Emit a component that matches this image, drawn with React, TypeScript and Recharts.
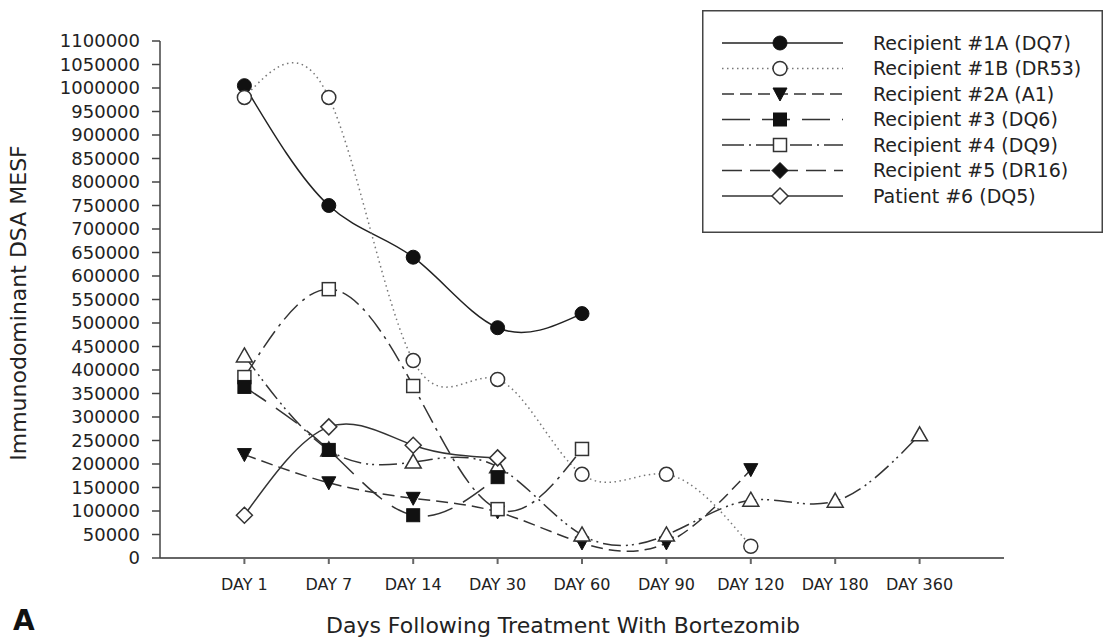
import React from 'react';
import { Legend, Line, LineChart, XAxis, YAxis } from 'recharts';

// x categories and y ticks
const dayLabels = ['DAY 1', 'DAY 7', 'DAY 14', 'DAY 30', 'DAY 60', 'DAY 90', 'DAY 120', 'DAY 180', 'DAY 360'];
const dayTicks = [1, 2, 3, 4, 5, 6, 7, 8, 9];
const yTicks = [
	0, 50000, 100000, 150000, 200000, 250000, 300000, 350000, 400000, 450000, 500000, 550000,
	600000, 650000, 700000, 750000, 800000, 850000, 900000, 950000, 1000000, 1050000, 1100000,
];

// MESF values per recipient, one entry per day starting at DAY 1
const recipient1A = [1005000, 750000, 640000, 490000, 520000];
const recipient1B = [980000, 980000, 420000, 380000, 178000, 178000, 25000];
const recipient2A = [220000, 160000, 127000, 98000, 32000, 32000, 188000];
const recipient3 = [364000, 230000, 91000, 172000];
const recipient4 = [385000, 572000, 366000, 104000, 232000];
const recipient5 = [430000, 230000, 204000, 194000, 49000, 49000, 123000, 121000, 262000];
const patient6 = [91000, 279000, 240000, 213000];

const FONT = '"DejaVu Sans", Arial, sans-serif';
const INK = '#222';

type Marker = 'filledCircle' | 'openCircle' | 'filledTriDown' | 'filledSquare' | 'openSquare' | 'openTriangle' | 'filledDiamond' | 'openDiamond';

interface Series {
	name: string;
	values: number[];
	marker: Marker;
	legendMarker: Marker;
	dash?: string;
	legendDash?: string;
	color: string;
}

const drawMarker = (kind: Marker, cx: number, cy: number, key?: string | number) => {
	const sw = 1.5;
	switch (kind) {
		case 'filledCircle':
			return <circle key={key} cx={cx} cy={cy} r={7} fill="#111" stroke="#111" />;
		case 'openCircle':
			return <circle key={key} cx={cx} cy={cy} r={7} fill="#fff" stroke="#333" strokeWidth={sw} />;
		case 'filledTriDown':
			return <polygon key={key} points={`${cx - 7},${cy - 6} ${cx + 7},${cy - 6} ${cx},${cy + 7}`} fill="#111" stroke="#111" />;
		case 'filledSquare':
			return <rect key={key} x={cx - 6.5} y={cy - 6.5} width={13} height={13} fill="#111" stroke="#111" />;
		case 'openSquare':
			return <rect key={key} x={cx - 6.5} y={cy - 6.5} width={13} height={13} fill="#fff" stroke="#333" strokeWidth={sw} />;
		case 'openTriangle':
			return <polygon key={key} points={`${cx},${cy - 8} ${cx + 8},${cy + 6} ${cx - 8},${cy + 6}`} fill="#fff" stroke="#333" strokeWidth={sw} />;
		case 'filledDiamond':
			return <polygon key={key} points={`${cx},${cy - 8} ${cx + 8},${cy} ${cx},${cy + 8} ${cx - 8},${cy}`} fill="#111" stroke="#111" />;
		case 'openDiamond':
		default:
			return <polygon key={key} points={`${cx},${cy - 8} ${cx + 8},${cy} ${cx},${cy + 8} ${cx - 8},${cy}`} fill="#fff" stroke="#333" strokeWidth={sw} />;
	}
};

const series: Series[] = [
	{ name: 'Recipient #1A (DQ7)', values: recipient1A, marker: 'filledCircle', legendMarker: 'filledCircle', color: '#222' },
	{ name: 'Recipient #1B (DR53)', values: recipient1B, marker: 'openCircle', legendMarker: 'openCircle', dash: '1.5 3.5', legendDash: '1.5 3.5', color: '#777' },
	{ name: 'Recipient #2A (A1)', values: recipient2A, marker: 'filledTriDown', legendMarker: 'filledTriDown', dash: '12 6', legendDash: '12 6', color: '#333' },
	{ name: 'Recipient #3 (DQ6)', values: recipient3, marker: 'filledSquare', legendMarker: 'filledSquare', dash: '26 12', legendDash: '28 12', color: '#333' },
	{ name: 'Recipient #4 (DQ9)', values: recipient4, marker: 'openSquare', legendMarker: 'openSquare', dash: '20 6 3 6', legendDash: '22 5 2 5', color: '#333' },
	{ name: 'Recipient #5 (DR16)', values: recipient5, marker: 'openTriangle', legendMarker: 'filledDiamond', dash: '18 5 2 4 2 5', legendDash: '20 8', color: '#333' },
	{ name: 'Patient #6 (DQ5)', values: patient6, marker: 'openDiamond', legendMarker: 'openDiamond', color: '#333' },
];

// draw order so overlapping markers stack like the original
const drawOrder = [0, 1, 2, 4, 5, 3, 6];

const toPoints = (values: number[]) => values.map((v, i) => ({ pos: dayTicks[i], value: v }));

const LegendBox = () => (
	<svg width={401} height={223} style={{ display: 'block' }}>
		<rect x={0.75} y={0.75} width={399.5} height={221.5} fill="#fff" stroke="#444" strokeWidth={1.5} />
		{series.map((s, i) => {
			const y = 33 + i * 25.5;
			return (
				<g key={s.name}>
					<line x1={20} x2={141} y1={y} y2={y} stroke={s.color} strokeWidth={1.5} strokeDasharray={s.legendDash} />
					{drawMarker(s.legendMarker, 78, y)}
					<text x={171} y={y} dy="0.36em" fontSize={19} fontFamily={FONT} fill={INK}>
						{s.name}
					</text>
				</g>
			);
		})}
	</svg>
);

export default function App() {
	return (
		<div style={{ position: 'absolute', left: 0, top: 0, width: 1103, height: 639, overflow: 'hidden', background: '#fff' }}>
			<LineChart width={1103} height={639} margin={{ top: 41, right: 99, bottom: 21, left: 0 }}>
				<XAxis
					type="number"
					dataKey="pos"
					domain={[0, 10]}
					ticks={dayTicks}
					tickFormatter={(v: number) => dayLabels[v - 1]}
					height={60}
					tickSize={6}
					tickMargin={15}
					stroke="#666"
					strokeWidth={2}
					tick={{ fontSize: 16, fill: INK, fontFamily: FONT }}
					label={{
						content: () => (
							<text x={563} y={633} textAnchor="middle" fontSize={22} fontFamily={FONT} fill={INK}>
								Days Following Treatment With Bortezomib
							</text>
						),
					}}
				/>
				<YAxis
					type="number"
					domain={[0, 1100000]}
					ticks={yTicks}
					interval={0}
					width={160}
					tickSize={8}
					tickMargin={12}
					stroke="#444"
					strokeWidth={1.5}
					tick={{ fontSize: 18, fill: INK, fontFamily: FONT }}
					label={{
						content: () => (
							<text x={26} y={303} transform="rotate(-90, 26, 303)" textAnchor="middle" fontSize={22} fontFamily={FONT} fill={INK}>
								Immunodominant DSA MESF
							</text>
						),
					}}
				/>
				<Legend
					layout="horizontal"
					align="center"
					verticalAlign="middle"
					wrapperStyle={{ position: 'absolute', left: 702, top: 10, width: 401, height: 223 }}
					content={() => <LegendBox />}
				/>
				{drawOrder.map((idx) => {
					const s = series[idx];
					return (
						<Line
							key={s.name}
							data={toPoints(s.values)}
							dataKey="value"
							name={s.name}
							type="natural"
							stroke={s.color}
							strokeWidth={1.5}
							strokeDasharray={s.dash}
							dot={(p: any) => drawMarker(s.marker, p.cx, p.cy, `${s.name}-${p.index}`)}
							activeDot={false}
							isAnimationActive={false}
						/>
					);
				})}
			</LineChart>
			<div style={{ position: 'absolute', left: 13, top: 607, fontSize: 28, lineHeight: 1, fontWeight: 'bold', fontFamily: FONT, color: '#111' }}>
				A
			</div>
		</div>
	);
}
